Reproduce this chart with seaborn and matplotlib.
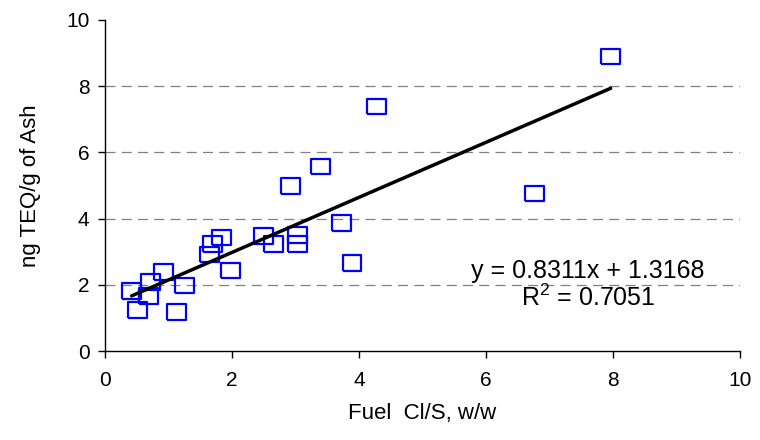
import numpy as np
import matplotlib
matplotlib.use("Agg")
import matplotlib.pyplot as plt
import seaborn as sns

# Values
fuel_cl_s = [0.42, 0.51, 0.68, 0.72, 0.92, 1.13, 1.26, 1.65, 1.69, 1.84, 1.98,
             2.49, 2.66, 2.92, 3.03, 3.03, 3.40, 3.73, 3.89, 4.28, 6.76, 7.96]
teq_ash = [1.82, 1.24, 1.66, 2.09, 2.38, 1.19, 1.98, 2.92, 3.23, 3.43, 2.43,
           3.47, 3.23, 4.98, 3.50, 3.23, 5.57, 3.86, 2.65, 7.38, 4.76, 8.89]
slope, intercept, r2 = 0.8311, 1.3168, 0.7051
grid_levels = [2, 4, 6, 8]

sns.set_style("ticks")
plt.rcParams["font.family"] = ["Liberation Sans", "DejaVu Sans"]
plt.rcParams["text.color"] = "black"
plt.rcParams["axes.labelcolor"] = "black"
plt.rcParams["xtick.color"] = "black"
plt.rcParams["ytick.color"] = "black"
plt.rcParams["mathtext.fontset"] = "custom"
plt.rcParams["mathtext.rm"] = "Liberation Sans"

fig = plt.figure(figsize=(7.6, 4.4), dpi=100)
ax = fig.add_axes([0.138, 0.202, 0.836, 0.753])

for lv in grid_levels:
    ax.axhline(lv, color="#808080", lw=0.9, ls=(0, (8, 5)), zorder=0)

# slightly wide box marker, as in the original
box = [(-1.2, -1), (1.2, -1), (1.2, 1), (-1.2, 1), (-1.2, -1)]
sns.scatterplot(x=fuel_cl_s, y=teq_ash, marker=box, s=185, facecolor="none",
                edgecolor="#0000ff", linewidth=1.6, ax=ax, zorder=3)

# linear trendline over the data range
xs = np.array([min(fuel_cl_s), max(fuel_cl_s)])
ax.plot(xs, slope * xs + intercept, color="black", lw=2.5, zorder=4)

ax.text(7.6, 2.42, f"y = {slope}x + {intercept}", ha="center", va="center", fontsize=18)
ax.text(7.6, 1.6, f"R$^{{2}}$ = {r2}", ha="center", va="center", fontsize=18)

ax.set_xlim(0, 10)
ax.set_ylim(0, 10)
ax.set_xticks(range(0, 11, 2))
ax.set_yticks(range(0, 11, 2))
ax.tick_params(labelsize=15, length=5, width=1)
ax.tick_params(axis="x", pad=9)
ax.tick_params(axis="y", pad=6)
ax.set_xlabel("Fuel  Cl/S, w/w", fontsize=16, labelpad=10)
ax.set_ylabel("ng TEQ/g of Ash", fontsize=16, labelpad=18)
sns.despine(ax=ax)
for sp in ["left", "bottom"]:
    ax.spines[sp].set_color("black")
    ax.spines[sp].set_linewidth(1)

fig.savefig("out.png", dpi=100)
